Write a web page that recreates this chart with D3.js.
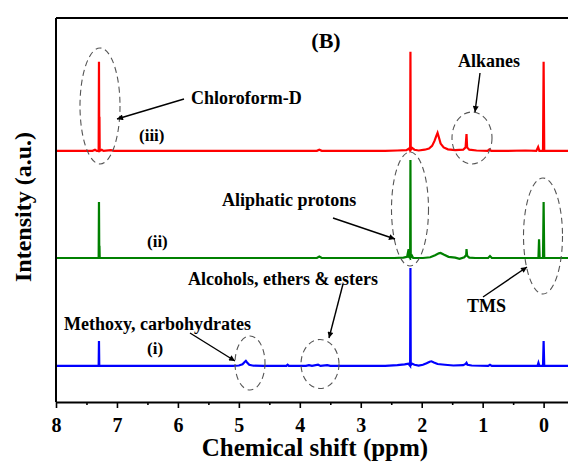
<!DOCTYPE html>
<html>
<head>
<meta charset="utf-8">
<script src="https://cdn.jsdelivr.net/npm/d3@7"></script>
<style>
  html, body { margin: 0; padding: 0; background: #fff; }
  svg { display: block; }
  svg text { font-family: "Times New Roman", "Liberation Serif", "DejaVu Serif", serif; font-weight: 700; fill: #000; }
</style>
</head>
<body>
<svg id="chart" width="568" height="465"></svg>
<script>
// 1H NMR spectra, chemical shift (ppm) vs intensity (a.u.), each trace relative to its own baseline
const xTicks = [8, 7, 6, 5, 4, 3, 2, 1, 0];
const xMinorTicks = [7.5, 6.5, 5.5, 4.5, 3.5, 2.5, 1.5, 0.5];
const xTickLabels = ["8", "7", "6", "5", "4", "3", "2", "1", "0"];

const seriesNames = ["(iii)", "(ii)", "(i)"];
const seriesColors = ["#ff0000", "#008000", "#0000ff"];
const seriesOffsets = [65.4, 37.5, 9.4];

// [ppm, intensity]
const spectrumIII = [
  [8.4, 0], [7.40, 0], [7.36, 0.3], [7.33, 0], [7.30, 0], [7.295, 23.2], [7.29, 0.4], [7.287, 8.9], [7.283, 0],
  [7.25, 0.3], [7.22, 0], [7.10, 0.2], [7.05, 0], [5.00, 0], [3.72, 0], [3.68, 0.3], [3.64, 0],
  [2.60, 0], [2.40, 0.1], [2.25, 0.2], [2.21, 0.6], [2.19, 0], [2.185, 25.8], [2.18, 0.3], [2.16, 0.8],
  [2.12, 0.3], [2.05, 0.1], [1.95, 0.3], [1.88, 0.6], [1.83, 1.3], [1.79, 2.6], [1.76, 3.9], [1.74, 4.7],
  [1.72, 3.6], [1.69, 1.9], [1.64, 0.9], [1.57, 0.4], [1.45, 0.2], [1.32, 0.3], [1.28, 0.9], [1.265, 4.4],
  [1.255, 0.9], [1.22, 0.3], [1.10, 0.1], [0.92, 0], [0.89, 0.4], [0.86, 0], [0.60, 0], [0.30, 0.1],
  [0.12, 0], [0.09, 1.0], [0.07, 0], [0.01, 0], [0.0, 23.2], [-0.01, 0], [-0.40, 0]
];
const spectrumII = [
  [8.4, 0], [7.30, 0], [7.295, 14.6], [7.29, 0.4], [7.287, 3.2], [7.283, 0], [7.20, 0], [5.00, 0],
  [3.72, 0], [3.68, 0.4], [3.64, 0], [2.45, 0], [2.30, 0.1], [2.24, 0.3], [2.215, 2.3], [2.205, 0.2],
  [2.19, 0], [2.185, 25.5], [2.18, 0.2], [2.16, 0.6], [2.14, 0], [2.10, 0], [1.98, 0], [1.86, 0.2],
  [1.78, 0.7], [1.72, 1.2], [1.69, 1.3], [1.64, 0.9], [1.56, 0.3], [1.45, 0.1], [1.38, -0.2], [1.30, 0.2],
  [1.27, 0.8], [1.265, 2.3], [1.255, 0.6], [1.22, 0.1], [1.12, 0], [0.91, 0], [0.88, 0.5], [0.85, 0],
  [0.30, 0], [0.085, 0], [0.075, 4.9], [0.065, 0], [0.01, 0], [0.0, 14.6], [-0.01, 0], [-0.40, 0]
];
const spectrumI = [
  [8.4, 0], [7.30, 0], [7.295, 6.5], [7.29, 0], [7.20, 0], [5.10, 0], [5.00, 0.1], [4.94, 0.4],
  [4.905, 1.0], [4.885, 1.3], [4.865, 0.9], [4.83, 0.3], [4.76, 0.05], [4.60, 0], [4.22, 0], [4.20, 0.3],
  [4.18, 0], [3.90, 0], [3.85, 0.2], [3.80, 0], [3.70, 0.3], [3.66, 0], [3.55, 0.2], [3.50, 0], [2.60, 0],
  [2.40, 0.2], [2.28, 0.4], [2.22, 0.6], [2.19, 0], [2.185, 25.5], [2.18, 0.2], [2.16, 0.6], [2.12, 0.3],
  [2.05, 0.1], [1.98, 0.3], [1.92, 0.7], [1.87, 1.1], [1.84, 1.2], [1.80, 0.9], [1.74, 0.5], [1.62, 0.3],
  [1.48, 0.1], [1.32, 0.2], [1.28, 0.5], [1.265, 0.8], [1.25, 0.3], [1.18, 0.1], [0.91, 0], [0.88, 0.3],
  [0.85, 0], [0.10, 0], [0.085, 0.8], [0.07, 0], [0.01, 0], [0.0, 6.5], [-0.01, 0], [-0.40, 0]
];
const spectra = [spectrumIII, spectrumII, spectrumI];

const svg = d3.select("#chart");
const W = 568, H = 465;
const margin = { top: 18, right: 0, bottom: 63, left: 56 };
const plotW = W - margin.left - margin.right;
const plotH = H - margin.top - margin.bottom;

const x = d3.scaleLinear().domain([8, -0.4]).range([margin.left, margin.left + plotW]);
const y = d3.scaleLinear().domain([0, 100]).range([margin.top + plotH, margin.top]);

const defs = svg.append("defs");
defs.append("clipPath").attr("id", "plot-clip")
  .append("rect").attr("x", margin.left).attr("y", margin.top).attr("width", plotW).attr("height", plotH);

// spectra
const line = d3.line().x(d => x(d[0]));
const traces = svg.append("g").attr("clip-path", "url(#plot-clip)");
spectra.forEach((pts, i) => {
  traces.append("path")
    .datum(pts)
    .attr("fill", "none")
    .attr("stroke", seriesColors[i])
    .attr("stroke-width", 2.2)
    .attr("d", line.y(d => y(d[1] + seriesOffsets[i])));
});

// frame: top and left lines
svg.append("line").attr("x1", margin.left).attr("x2", W).attr("y1", margin.top).attr("y2", margin.top)
  .attr("stroke", "#000").attr("stroke-width", 2);
svg.append("line").attr("x1", margin.left).attr("x2", margin.left).attr("y1", margin.top).attr("y2", margin.top + plotH)
  .attr("stroke", "#000").attr("stroke-width", 2);

// x axis
const xAxis = d3.axisBottom(x).tickValues(xTicks).tickSize(6).tickSizeOuter(0)
  .tickFormat((d, i) => xTickLabels[i]);
const gx = svg.append("g").attr("transform", `translate(0,${margin.top + plotH})`).call(xAxis);
gx.attr("font-family", null);
gx.select(".domain").attr("stroke-width", 2);
gx.selectAll(".tick line").attr("stroke-width", 1.6);
gx.selectAll(".tick text").style("font-size", "20px").attr("dy", 0).attr("y", 30);
const minor = d3.axisBottom(x).tickValues(xMinorTicks).tickSize(3).tickSizeOuter(0).tickFormat("");
const gm = svg.append("g").attr("transform", `translate(0,${margin.top + plotH})`).call(minor);
gm.select(".domain").remove();
gm.selectAll(".tick line").attr("stroke-width", 1.6);

// axis titles
svg.append("text").attr("x", 315).attr("y", 456).attr("text-anchor", "middle")
  .style("font-size", "25px").text("Chemical shift (ppm)");
svg.append("text").attr("transform", "translate(31,207) rotate(-90)").attr("text-anchor", "middle")
  .style("font-size", "24px").text("Intensity (a.u.)");

// panel letter and trace labels
svg.append("text").attr("x", 326).attr("y", 48).attr("text-anchor", "middle").style("font-size", "22px").text("(B)");
const labelPos = [[139, 141], [147, 247], [147, 354]];
seriesNames.forEach((n, i) => {
  svg.append("text").attr("x", labelPos[i][0]).attr("y", labelPos[i][1]).style("font-size", "17px").text(n);
});

// annotation arrows
defs.append("marker")
  .attr("id", "arrowhead").attr("viewBox", "0 0 10 10").attr("refX", 10).attr("refY", 5)
  .attr("markerWidth", 10).attr("markerHeight", 6).attr("markerUnits", "userSpaceOnUse")
  .attr("orient", "auto")
  .append("path").attr("d", "M0,0 L10,5 L0,10 Z").attr("fill", "#000");

const notes = [
  { text: "Chloroform-D", tx: 191, ty: 104, from: [184, 99], to: [117, 119], ell: [100, 106, 20, 58] },
  { text: "Alkanes", tx: 458, ty: 67, from: [480, 73], to: [475, 112], ell: [472, 138, 20, 26] },
  { text: "Aliphatic protons", tx: 222, ty: 206, from: [333, 218], to: [395, 239], ell: [410, 209, 18.5, 57] },
  { text: "TMS", tx: 467, ty: 312, from: [483, 297], to: [527, 267], ell: [543, 236, 19.5, 58] },
  { text: "Alcohols, ethers & esters", tx: 188, ty: 285, from: [343, 284], to: [329, 338], ell: [320, 364, 19, 24.5] },
  { text: "Methoxy, carbohydrates", tx: 64, ty: 330, from: [190, 333], to: [235, 361], ell: [250, 363, 15, 27] }
];
const gn = svg.append("g");
notes.forEach(n => {
  gn.append("ellipse").attr("cx", n.ell[0]).attr("cy", n.ell[1]).attr("rx", n.ell[2]).attr("ry", n.ell[3])
    .attr("fill", "none").attr("stroke", "#555").attr("stroke-width", 1.1).attr("stroke-dasharray", "6,4");
  gn.append("line").attr("x1", n.from[0]).attr("y1", n.from[1]).attr("x2", n.to[0]).attr("y2", n.to[1])
    .attr("stroke", "#000").attr("stroke-width", 1.4).attr("marker-end", "url(#arrowhead)");
  gn.append("text").attr("x", n.tx).attr("y", n.ty).style("font-size", "18px").text(n.text);
});
</script>
</body>
</html>
